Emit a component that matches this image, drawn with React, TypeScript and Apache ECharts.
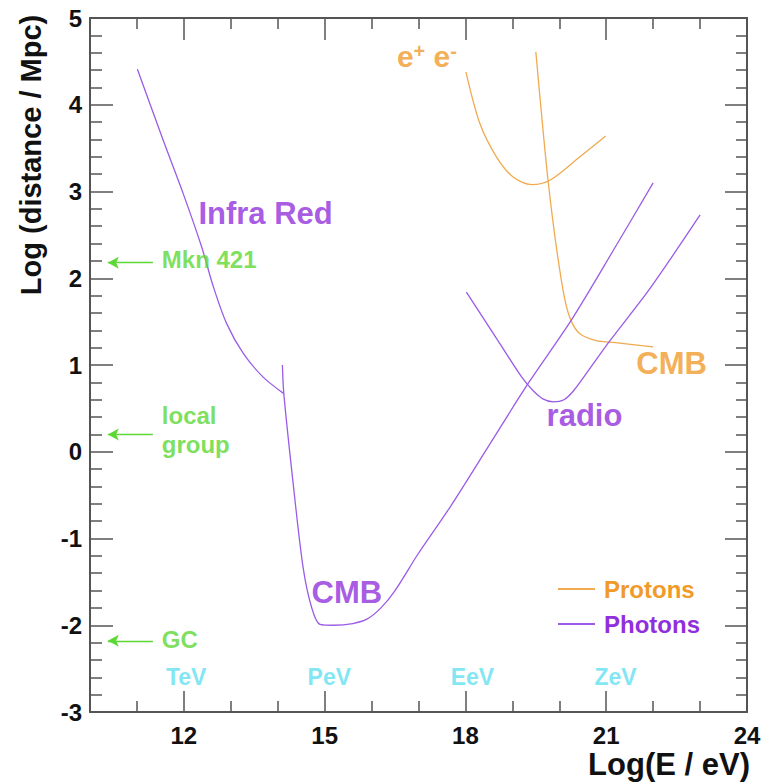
import React, { useEffect, useRef } from "react";
import * as echarts from "echarts";

// ---- data (log10 E/eV , log10 distance/Mpc) ----
const photonInfraRed: [number, number][] = [
  [11.01, 4.41], [11.56, 3.59], [11.99, 2.97], [12.38, 2.36], [12.63, 1.9],
  [12.91, 1.48], [13.27, 1.13], [13.69, 0.86], [14.13, 0.67],
];
const photonCMB: [number, number][] = [
  [14.1, 1.0], [14.13, 0.67], [14.33, -0.37], [14.54, -1.33], [14.72, -1.79],
  [14.9, -1.99], [15.2, -2.0], [15.6, -1.98], [15.9, -1.93], [16.2, -1.8],
  [16.5, -1.6], [17.0, -1.17], [17.67, -0.64], [18.5, 0.07], [19.34, 0.79],
  [20.26, 1.52], [21.15, 2.32], [22.0, 3.1],
];
const photonRadio: [number, number][] = [
  [18.02, 1.84], [18.73, 1.25], [19.2, 0.86], [19.45, 0.7], [19.65, 0.61],
  [19.87, 0.575], [20.1, 0.6], [20.3, 0.7], [20.6, 0.92], [21.08, 1.28],
  [21.93, 1.88], [23.0, 2.73],
];
const protonPairs: [number, number][] = [
  [18.01, 4.38], [18.31, 3.78], [18.66, 3.4], [19.01, 3.17], [19.41, 3.08],
  [19.8, 3.13], [20.44, 3.4], [20.99, 3.64],
];
const protonCMB: [number, number][] = [
  [19.5, 4.61], [19.62, 3.9], [19.76, 3.13], [19.94, 2.35], [20.12, 1.75],
  [20.26, 1.5], [20.44, 1.36], [20.79, 1.28], [21.15, 1.26], [22.0, 1.21],
];

const xMajorTicks = [12, 15, 18, 21, 24];
const xMinorTicks = [11, 13, 14, 16, 17, 19, 20, 22, 23];

const energyNames = ["TeV", "PeV", "EeV", "ZeV"];
const energyX = [12.05, 15.1, 18.15, 21.2];
const energyY = -2.6;

const sourceNames = ["Mkn 421", "local\ngroup", "GC"];
const sourceArrowY = [2.18, 0.2, -2.18];
const sourceLabelY = [2.22, 0.25, -2.17];
const arrowFromX = 11.34;
const arrowToX = 10.38;
const sourceLabelX = 11.53;

const curveLabels = [
  { text: "Infra Red", x: 12.31, y: 2.75, kind: "photon" },
  { text: "CMB", x: 14.72, y: -1.62, kind: "photon" },
  { text: "radio", x: 19.73, y: 0.42, kind: "photon" },
  { text: "CMB", x: 21.64, y: 1.02, kind: "proton" },
  { text: "{a|e}{s|+}{a| e}{s|-}", x: 16.54, y: 4.56, kind: "proton" },
];

const FONT = '"Liberation Sans", Arial, Helvetica, sans-serif';
const AXIS = "#555";
const PURPLE_LINE = "#9a5ce6";
const PURPLE_TEXT = "#9030dc";
const ORANGE_LINE = "#f0aa50";
const ORANGE_TEXT = "#f09a2a";
const GREEN = "#5cd834";
const CYAN = "#5fe0f0";

export default function App() {
  const ref = useRef<HTMLDivElement>(null);

  useEffect(() => {
    if (!ref.current) return;
    const chart = echarts.init(ref.current, undefined, { renderer: "svg" });

    const xBase = {
      type: "value",
      min: 10,
      max: 24,
      splitLine: { show: false },
    };
    const yBase = {
      type: "value",
      min: -3,
      max: 5,
      interval: 1,
      splitLine: { show: false },
      minorSplitLine: { show: false },
    };
    const tickStyle = { color: AXIS, width: 1.5 };
    const axisLine = { show: true, onZero: false, lineStyle: { color: AXIS, width: 2 } };
    const noLine = { show: false, onZero: false };

    const lineSeries = (name: string, data: [number, number][], color: string) => ({
      type: "line",
      name,
      data,
      showSymbol: false,
      symbol: "none",
      smooth: 0.3,
      color,
      lineStyle: { width: 1.3, color },
      silent: true,
      z: 3,
    });

    const annotationData: any[] = [];
    curveLabels.forEach((c) => {
      annotationData.push({
        value: [c.x, c.y],
        label: {
          show: true,
          position: [0, 0],
          align: "left",
          verticalAlign: "middle",
          formatter: c.text,
          fontFamily: FONT,
          fontWeight: "bold",
          fontSize: 31,
          color: c.kind === "photon" ? PURPLE_TEXT : ORANGE_TEXT,
          rich: {
            a: { fontSize: 30, fontWeight: "bold", fontFamily: FONT, color: ORANGE_TEXT, lineHeight: 30 },
            s: { fontSize: 20, fontWeight: "bold", fontFamily: FONT, color: ORANGE_TEXT, verticalAlign: "top", lineHeight: 26 },
          },
        },
      });
    });
    sourceNames.forEach((n, i) => {
      annotationData.push({
        value: [sourceLabelX, sourceLabelY[i]],
        label: {
          show: true,
          position: [0, 0],
          align: "left",
          verticalAlign: "middle",
          formatter: n,
          fontFamily: FONT,
          fontWeight: "bold",
          fontSize: 24,
          lineHeight: 29,
          color: GREEN,
        },
      });
    });
    energyNames.forEach((n, i) => {
      annotationData.push({
        value: [energyX[i], energyY],
        label: {
          show: true,
          position: [0, 0],
          align: "center",
          verticalAlign: "middle",
          formatter: n,
          fontFamily: FONT,
          fontWeight: "bold",
          fontSize: 23,
          color: CYAN,
        },
      });
    });

    chart.setOption({
      animation: false,
      backgroundColor: "#fff",
      grid: { left: 90, right: 16, top: 18, bottom: 70, containLabel: false, outerBoundsMode: "none" },
      xAxis: [
        {
          ...xBase,
          position: "bottom",
          axisLine,
          axisTick: { show: true, inside: true, length: 21, customValues: xMajorTicks, lineStyle: tickStyle },
          axisLabel: {
            show: true,
            customValues: xMajorTicks,
            margin: 11,
            fontSize: 24,
            fontWeight: "bold",
            fontFamily: FONT,
            color: "#111",
          },
        },
        {
          ...xBase,
          position: "bottom",
          axisLine: noLine,
          axisTick: { show: true, inside: true, length: 11, customValues: xMinorTicks, lineStyle: tickStyle },
          axisLabel: { show: false },
        },
        {
          ...xBase,
          position: "top",
          axisLine,
          axisTick: { show: true, inside: true, length: 22, customValues: xMajorTicks, lineStyle: tickStyle },
          axisLabel: { show: false },
        },
        {
          ...xBase,
          position: "top",
          axisLine: noLine,
          axisTick: { show: true, inside: true, length: 11, customValues: xMinorTicks, lineStyle: tickStyle },
          axisLabel: { show: false },
        },
      ],
      yAxis: [
        {
          ...yBase,
          position: "left",
          axisLine,
          axisTick: { show: true, inside: true, length: 23, lineStyle: tickStyle },
          minorTick: { show: true, splitNumber: 5, length: 12, lineStyle: tickStyle },
          axisLabel: {
            show: true,
            margin: 8,
            fontSize: 24,
            fontWeight: "bold",
            fontFamily: FONT,
            color: "#111",
          },
        },
        {
          ...yBase,
          position: "right",
          axisLine,
          axisTick: { show: true, inside: true, length: 22, lineStyle: tickStyle },
          minorTick: { show: true, splitNumber: 5, length: 11, lineStyle: tickStyle },
          axisLabel: { show: false },
        },
      ],
      legend: {
        orient: "vertical",
        left: 553,
        top: 572,
        icon: "rect",
        itemWidth: 37,
        itemHeight: 2,
        itemGap: 11,
        selectedMode: false,
        textStyle: { fontSize: 24, fontWeight: "bold", fontFamily: FONT, padding: [0, 0, 0, 4] },
        data: [
          { name: "Protons", textStyle: { color: ORANGE_TEXT } },
          { name: "Photons", textStyle: { color: PURPLE_TEXT } },
        ],
      },
      series: [
        lineSeries("Protons", protonPairs, ORANGE_LINE),
        lineSeries("Protons", protonCMB, ORANGE_LINE),
        lineSeries("Photons", photonInfraRed, PURPLE_LINE),
        lineSeries("Photons", photonCMB, PURPLE_LINE),
        lineSeries("Photons", photonRadio, PURPLE_LINE),
        {
          type: "scatter",
          name: "annotations",
          data: annotationData,
          symbolSize: 0,
          silent: true,
          z: 4,
          markLine: {
            silent: true,
            symbol: ["none", "arrow"],
            symbolSize: [9, 11],
            label: { show: false },
            lineStyle: { color: GREEN, width: 1.3, type: "solid" },
            data: sourceArrowY.map((y) => [
              { coord: [arrowFromX, y] },
              { coord: [arrowToX, y] },
            ]),
          },
        },
      ],
      graphic: [
        {
          type: "text",
          x: 31,
          y: 155,
          rotation: Math.PI / 2,
          style: {
            text: "Log (distance / Mpc)",
            fontSize: 29,
            fontWeight: "bold",
            fontFamily: FONT,
            fill: "#111",
            align: "center",
            verticalAlign: "middle",
          },
        },
        {
          type: "text",
          x: 750,
          y: 764,
          style: {
            text: "Log(E / eV)",
            fontSize: 31,
            fontWeight: "bold",
            fontFamily: FONT,
            fill: "#111",
            align: "right",
            verticalAlign: "middle",
          },
        },
      ],
    });

    return () => chart.dispose();
  }, []);

  return (
    <div
      ref={ref}
      style={{ position: "fixed", left: 0, top: 0, width: 763, height: 782, background: "#fff" }}
    />
  );
}
